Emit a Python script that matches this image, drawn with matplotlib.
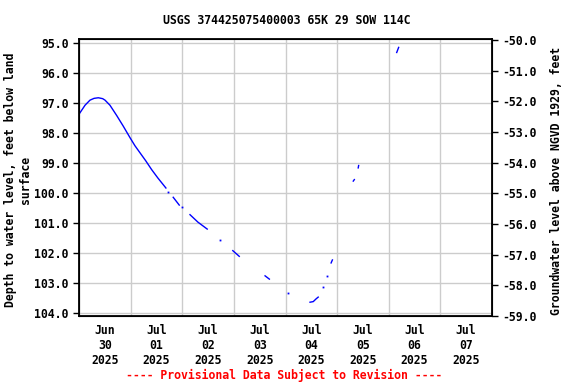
import numpy as np
import matplotlib
matplotlib.use("Agg")
from matplotlib import pyplot as plt
from matplotlib.ticker import MultipleLocator, FixedLocator, NullFormatter

# hours since 2025-06-30 00:00, depth to water (ft); None = gap in record
hours = [0.0, 2.8, 5.1, 7.0, 9.0, 11.0, 12.1, 14.4, 17.5, 20.6, 23.7, 26.0,
         28.4, 31.0, 33.8, 36.7, 40.4, None,
         41.6, None,
         43.8, 46.6, None,
         48.0, None,
         51.6, 55.3, 59.6, None,
         65.6, None,
         71.5, 74.5, None,
         86.5, 88.5, None,
         97.3, None,
         107.4, 108.9, 110.2, 111.2, None,
         113.6, None,
         115.4, None,
         117.2, 117.8, None,
         127.5, 128.0, None,
         129.8, 130.0, None,
         147.7, 148.6]
depth = [97.37, 97.07, 96.90, 96.84, 96.82, 96.85, 96.90, 97.07, 97.41, 97.77, 98.15, 98.42,
         98.66, 98.92, 99.22, 99.50, 99.83, None,
         99.96, None,
         100.14, 100.40, None,
         100.46, None,
         100.72, 100.97, 101.20, None,
         101.56, None,
         101.92, 102.11, None,
         102.76, 102.87, None,
         103.34, None,
         103.64, 103.62, 103.53, 103.47, None,
         103.12, None,
         102.76, None,
         102.33, 102.23, None,
         99.60, 99.55, None,
         99.16, 99.08, None,
         95.31, 95.14]

day_labels = ["Jun\n30\n2025", "Jul\n01\n2025", "Jul\n02\n2025", "Jul\n03\n2025",
              "Jul\n04\n2025", "Jul\n05\n2025", "Jul\n06\n2025", "Jul\n07\n2025"]

plt.rcParams['font.family'] = ['DejaVu Sans Mono']
plt.rcParams['font.weight'] = 'bold'
plt.rcParams['font.size'] = 8.3

h = np.array([np.nan if v is None else v for v in hours], dtype=float)
d = np.array([np.nan if v is None else v for v in depth], dtype=float)

fig = plt.figure(figsize=[5.76, 3.84], dpi=100)
ax = fig.add_axes([79/576, 1-316/384, 413/576, 277/384])

ax.plot(h, d, color="#0000ff", linewidth=1)
# isolated readings
iso = np.isnan(np.roll(h, 1)) & np.isnan(np.roll(h, -1)) & ~np.isnan(h)
ax.plot(h[iso], d[iso], "s", color="#0000ff", markersize=1.3, markeredgewidth=0)

ax.set_xlim(0, 192)
ax.set_ylim(104.1, 94.86)
ax.yaxis.set_major_locator(MultipleLocator(1))
ax.yaxis.set_major_formatter(matplotlib.ticker.FormatStrFormatter("%.1f"))

ax.xaxis.set_major_locator(FixedLocator(np.arange(0, 193, 24)))
ax.xaxis.set_major_formatter(NullFormatter())
ax.set_xticks(np.arange(12, 192, 24), day_labels, minor=True)
ax.tick_params(axis="x", which="both", length=0, pad=6)
ax.tick_params(axis="y", length=4, width=1, labelsize=8.3)

ax.grid(True, color="#cccccc", linewidth=1)
ax.set_axisbelow(True)
for s in ax.spines.values():
    s.set_linewidth(1.3)

ax2 = ax.twinx()
ax2.set_ylim(-59.0, -49.97)
ax2.yaxis.set_major_locator(MultipleLocator(1))
ax2.yaxis.set_major_formatter(matplotlib.ticker.FormatStrFormatter("%.1f"))
ax2.tick_params(axis="y", length=4, width=1, labelsize=8.3)

fig.text(0.497, 1-20/384, "USGS 374425075400003 65K 29 SOW 114C",
         ha="center", va="center")
fig.text(18/576, 1-180/384, "Depth to water level, feet below land\nsurface",
         rotation=90, ha="center", va="center", multialignment="center")
fig.text(556/576, 1-181/384, "Groundwater level above NGVD 1929, feet",
         rotation=90, ha="center", va="center")
fig.text(0.494, 1-375/384, "---- Provisional Data Subject to Revision ----",
         ha="center", va="center", color="red")

fig.savefig("out.png", dpi=100)
